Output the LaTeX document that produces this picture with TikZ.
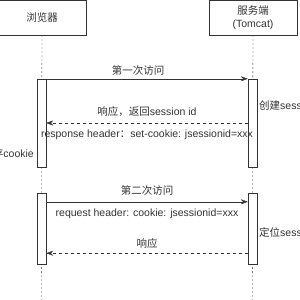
\documentclass[tikz,border=0pt]{standalone}
\usepackage{fontspec}
\setmainfont{Liberation Sans}
\newfontfamily\cjk{Noto Sans CJK SC}
\usetikzlibrary{arrows.meta,positioning}
\definecolor{ink}{HTML}{333333}

\begin{document}
\begin{tikzpicture}[
    x=1pt, y=-1pt,
    actor/.style={
      draw=ink, minimum width=88pt, minimum height=35pt,
      align=center, inner sep=0pt, text=ink,
      font=\fontsize{10.5}{13}\selectfont
    },
    act/.style={
      draw=ink, fill=white, minimum width=9pt, inner sep=0pt
    },
    life/.style={draw=ink, dash pattern=on 2pt off 2pt},
    msg/.style={draw=ink, -{Stealth[length=7pt,width=5pt]}},
    reply/.style={msg, dash pattern=on 3pt off 3pt},
    lbl/.style={text=ink, inner sep=0pt, font=\fontsize{10.5}{13}\selectfont}
  ]
    \clip (0,0) rectangle (300,300);

    % Actors (top row)
    \node[actor] (browser) at ( 42, 17.5) {\cjk 浏览器};
    \node[actor] (server)  at (253, 17.5) {{\cjk 服务端}\\(Tomcat)};

    % Lifelines
    \coordinate (bend) at ( 41.5, 300);
    \coordinate (send) at (252.5, 300);
    \draw[life] (browser.south) -- (bend);
    \draw[life] (server.south)  -- (send);

    % Activation boxes
    \node[act, minimum height=88pt] (ba1) at ( 41.5, 123) {};
    \node[act, minimum height=71pt] (ba2) at ( 41.5, 228.5) {};
    \node[act, minimum height=88pt] (sa1) at (252.5, 123) {};
    \node[act, minimum height=71pt] (sa2) at (252.5, 228.5) {};

    % First visit
    \draw[msg] (ba1.north east) -- (sa1.north west)
      node[lbl, midway, above=3pt, xshift=-9pt] {\cjk 第一次访问};
    \draw[reply] (sa1.west) -- (ba1.east)
      node[lbl, midway, above=6pt] {{\cjk 响应，返回}session id}
      node[lbl, midway, below=7pt] {response header{\cjk ：}set-cookie: jsessionid=xxx};

    % Second visit
    \draw[msg] ([yshift=-9pt]ba2.north east) -- ([yshift=-9pt]sa2.north west)
      node[lbl, midway, above=6pt] {\cjk 第二次访问}
      node[lbl, midway, below=7pt] {request header: cookie: jsessionid=xxx};
    \draw[reply] ([yshift=11pt]sa2.south west) -- ([yshift=11pt]ba2.south east)
      node[lbl, midway, above=5pt] {\cjk 响应};

    % Side notes
    \node[lbl, anchor=west] (create) at (259, 106) {{\cjk 创建}session};
    \node[lbl, anchor=east] (store)  at ( 34, 154) {{\cjk 保存}cookie};
    \node[lbl, anchor=west] (locate) at (259, 232) {{\cjk 定位}session};

  \end{tikzpicture}
\end{document}
